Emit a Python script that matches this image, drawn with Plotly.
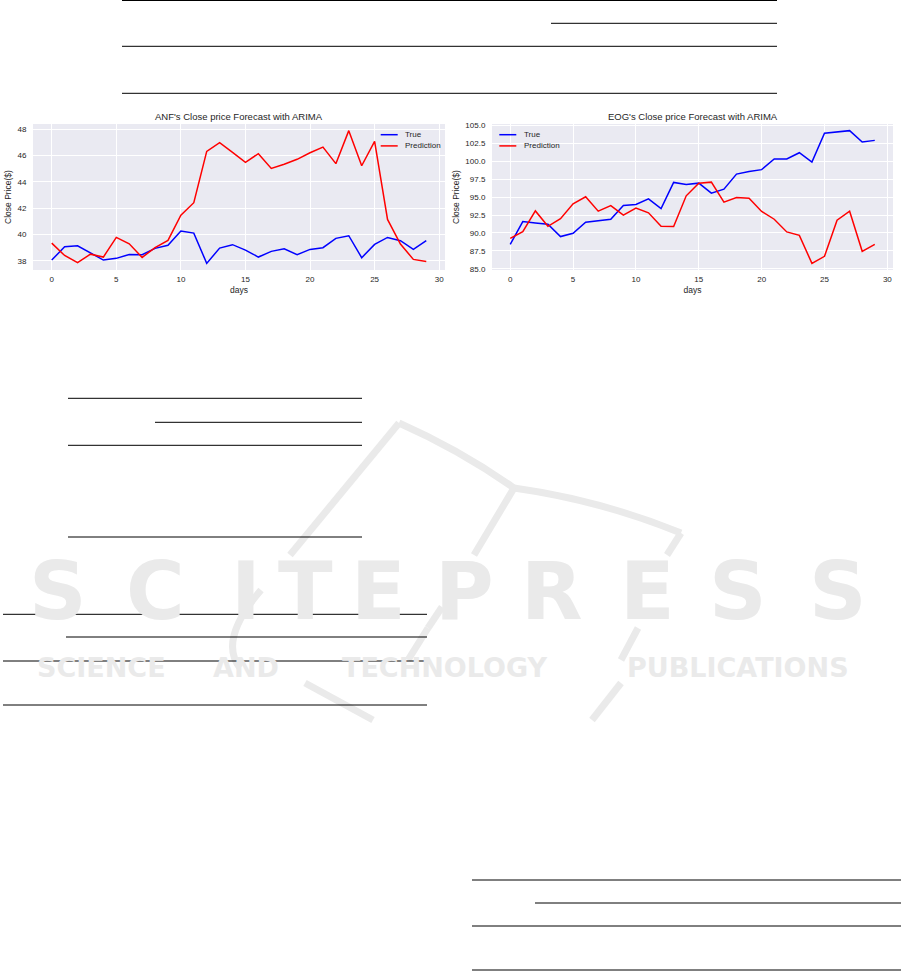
import plotly.graph_objects as go

W, H = 901, 971

days = list(range(30))
anf_true = [38.05, 39.06, 39.14, 38.60, 38.05, 38.18, 38.48, 38.46, 38.94, 39.17,
            40.26, 40.10, 37.80, 38.96, 39.22, 38.81, 38.28, 38.71, 38.91, 38.46,
            38.86, 38.99, 39.70, 39.90, 38.23, 39.24, 39.77, 39.52, 38.86, 39.52]
anf_pred = [39.34, 38.40, 37.85, 38.50, 38.28, 39.77, 39.29, 38.25, 39.00, 39.55,
            41.47, 42.41, 46.31, 46.97, 46.24, 45.48, 46.14, 45.02, 45.33, 45.71,
            46.21, 46.64, 45.38, 47.89, 45.22, 47.07, 41.14, 39.27, 38.10, 37.95]
eog_true = [88.41, 91.59, 91.40, 91.21, 89.49, 89.95, 91.50, 91.68, 91.92, 93.83,
            93.97, 94.77, 93.41, 97.06, 96.78, 96.96, 95.56, 96.12, 98.22, 98.60,
            98.85, 100.33, 100.33, 101.21, 99.91, 103.93, 104.07, 104.30, 102.71, 102.94]
eog_pred = [89.25, 90.19, 93.08, 90.93, 92.00, 94.07, 95.05, 93.04, 93.83, 92.48,
            93.48, 92.82, 90.95, 90.90, 95.19, 96.96, 97.10, 94.30, 94.95, 94.86,
            93.00, 91.92, 90.14, 89.67, 85.75, 86.73, 91.78, 93.04, 87.43, 88.41]

titles = ["ANF's Close price Forecast with ARIMA", "EOG's Close price Forecast with ARIMA"]
series_names = ["True", "Prediction"]
series_colors = ["#0000FF", "#FF0000"]
x_ticks = [0, 5, 10, 15, 20, 25, 30]
anf_y_ticks = [38, 40, 42, 44, 46, 48]
eog_y_ticks = [85.0, 87.5, 90.0, 92.5, 95.0, 97.5, 100.0, 102.5, 105.0]

TXT = "#262626"
BG = "#EAEAF2"
FONT = "Liberation Sans, Arial, sans-serif"


def px_x(x):
    return x / W


def px_y(y):
    return 1 - y / H


def mrange(vals):
    lo, hi = min(vals), max(vals)
    m = 0.05 * (hi - lo)
    return [lo - m, hi + m]


fig = go.Figure()
for ax, ys in (("", (anf_true, anf_pred)), ("2", (eog_true, eog_pred))):
    for name, col, yv in zip(series_names, series_colors, ys):
        fig.add_trace(go.Scatter(x=days, y=yv, mode="lines", name=name,
                                 line=dict(color=col, width=1.5),
                                 xaxis="x" + ax, yaxis="y" + ax, showlegend=False))

xr = mrange(days)
ydom = [px_y(270), px_y(124)]

common_x = dict(tickvals=x_ticks, showgrid=True, gridcolor="white", gridwidth=1,
                zeroline=False, showline=False, ticks="outside", ticklen=1,
                tickcolor="rgba(0,0,0,0)", tickfont=dict(size=8, color=TXT, family=FONT),
                range=xr, automargin=False,
                title=dict(text="days", font=dict(size=8.5, color=TXT, family=FONT), standoff=4))
common_y = dict(showgrid=True, gridcolor="white", gridwidth=1, zeroline=False, showline=False,
                ticks="outside", ticklen=4, tickcolor="rgba(0,0,0,0)",
                tickfont=dict(size=8, color=TXT, family=FONT), automargin=False,
                title=dict(text="Close Price($)", font=dict(size=8.5, color=TXT, family=FONT), standoff=4))

fig.update_layout(
    width=W, height=H,
    margin=dict(l=0, r=0, t=0, b=0),
    paper_bgcolor="white",
    plot_bgcolor=BG,
    font=dict(family=FONT, color=TXT),
    xaxis=dict(domain=[px_x(33), px_x(445)], anchor="y", **common_x),
    yaxis=dict(domain=ydom, anchor="x", range=mrange(anf_true + anf_pred),
               tickvals=anf_y_ticks, **common_y),
    xaxis2=dict(domain=[px_x(492), px_x(893)], anchor="y2", **common_x),
    yaxis2=dict(domain=ydom, anchor="x2", range=mrange(eog_true + eog_pred),
                tickvals=eog_y_ticks, tickformat=".1f", **common_y),
    showlegend=False,
)

# subplot titles
fig.add_annotation(text=titles[0], x=px_x(239.4), y=px_y(116.7), xref="paper", yref="paper",
                   showarrow=False, xanchor="center", yanchor="middle",
                   font=dict(size=9.5, color=TXT, family=FONT))
fig.add_annotation(text=titles[1], x=px_x(693), y=px_y(116.7), xref="paper", yref="paper",
                   showarrow=False, xanchor="center", yanchor="middle",
                   font=dict(size=9.5, color=TXT, family=FONT))

# legends (matplotlib-style, no frame)
legend_boxes = [(380.7, 134.7), (499.3, 134.7)]
for lx, ly in legend_boxes:
    for i, (name, col) in enumerate(zip(series_names, series_colors)):
        yy = ly + i * 11.2
        fig.add_shape(type="line", xref="paper", yref="paper",
                      x0=px_x(lx), x1=px_x(lx + 17), y0=px_y(yy), y1=px_y(yy),
                      line=dict(color=col, width=1.5))
        fig.add_annotation(text=name, x=px_x(lx + 22.5), y=px_y(yy), xref="paper", yref="paper",
                           showarrow=False, xanchor="left", yanchor="middle",
                           font=dict(size=8, color=TXT, family=FONT))

# table rules of the surrounding page
rules = [
    (122, 777, 0.5), (551, 777, 23.3), (122, 777, 46.3), (122, 777, 93.3),
    (68, 362, 398.3), (155, 362, 422.3), (68, 362, 445.3), (68, 362, 537),
    (3, 427, 614.3), (66, 427, 637), (3, 427, 661), (3, 427, 705),
    (472, 901, 880), (535, 901, 903), (472, 901, 926), (472, 901, 970),
]
for x0, x1, y in rules:
    fig.add_shape(type="line", xref="paper", yref="paper",
                  x0=px_x(x0), x1=px_x(x1), y0=px_y(y), y1=px_y(y),
                  line=dict(color="black", width=1))

# faint watermark logo strokes
WM = "#EAEAEA"
strokes = [
    [(399, 423), (460, 450), (514, 488)],
    [(514, 488), (600, 500), (681, 533)],
    [(681, 533), (667, 555)],
    [(399, 423), (290, 555)],
    [(514, 488), (474, 555)],
    [(261, 590), (218, 640), (240, 668)],
    [(305, 683), (373, 720)],
    [(442, 607), (428, 628)],
    [(428, 628), (408, 660)],
    [(638, 628), (621, 660)],
    [(621, 683), (592, 720)],
]
for pts in strokes:
    path = "M {} {}".format(px_x(pts[0][0]), px_y(pts[0][1]))
    if len(pts) == 3:
        path += " Q {} {} {} {}".format(px_x(pts[1][0]), px_y(pts[1][1]), px_x(pts[2][0]), px_y(pts[2][1]))
    else:
        path += " L {} {}".format(px_x(pts[1][0]), px_y(pts[1][1]))
    fig.add_shape(type="path", xref="paper", yref="paper", path=path,
                  line=dict(color=WM, width=7), layer="below")

wm_letters = list("SCITEPRESS")
wm_centers = [58, 155, 246, 305, 378, 465, 552, 647, 738, 838]
for ch, cx in zip(wm_letters, wm_centers):
    fig.add_annotation(text="<b>" + ch + "</b>", x=px_x(cx), y=px_y(591), xref="paper", yref="paper",
                       showarrow=False, xanchor="center", yanchor="middle",
                       font=dict(size=80, color=WM, family="DejaVu Sans"))
wm_words = ["SCIENCE", "AND", "TECHNOLOGY", "PUBLICATIONS"]
wm_word_centers = [101, 246, 445, 738]
for wd, cx in zip(wm_words, wm_word_centers):
    fig.add_annotation(text="<b>" + wd + "</b>", x=px_x(cx), y=px_y(667), xref="paper", yref="paper",
                       showarrow=False, xanchor="center", yanchor="middle",
                       font=dict(size=27, color=WM, family="DejaVu Sans"))

fig.write_html("out.html", config={"displayModeBar": False},
               post_script="document.body.style.margin='0';document.body.style.overflow='hidden';")
